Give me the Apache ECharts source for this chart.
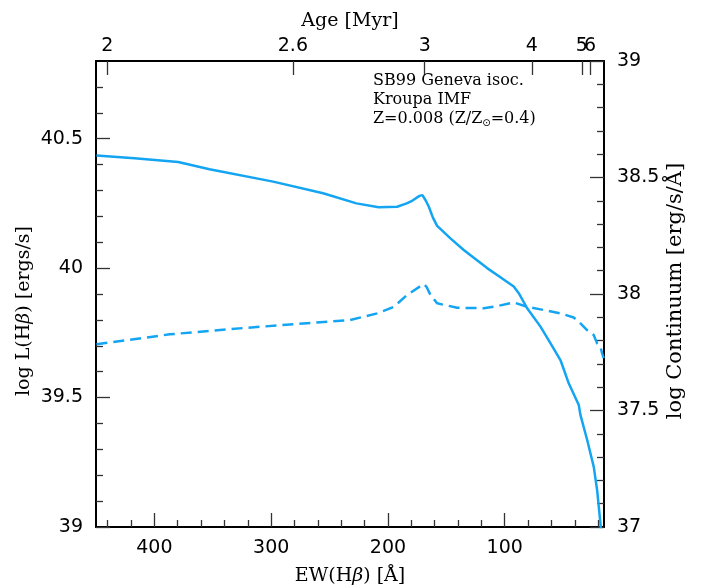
<!DOCTYPE html>
<html><head><meta charset="utf-8">
<script src="https://cdn.jsdelivr.net/npm/echarts@6/dist/echarts.min.js"></script>
<style>html,body{margin:0;padding:0;background:#fff}#c{width:702px;height:588px}</style>
</head><body><div id="c"></div>
<script>
// Solid line: log L(Hbeta) vs EW(Hbeta)
const ewSolid = [449.6, 417, 379.6, 352.8, 298.3, 255.5, 227, 207.9, 192.1, 184, 179.3, 173, 170.5, 167.9, 165, 161.5, 157.9, 146.5, 135.1, 115.1, 103.7, 92.3, 88, 80.8, 69.4, 60.9, 52.3, 45.2, 36.6, 35.2, 29.4, 23.8, 20.9, 18.1, 17.2];
const logLHb = [40.435, 40.424, 40.410, 40.382, 40.334, 40.289, 40.250, 40.235, 40.237, 40.250, 40.260, 40.279, 40.282, 40.263, 40.237, 40.195, 40.163, 40.115, 40.070, 40.0, 39.965, 39.929, 39.903, 39.845, 39.774, 39.710, 39.645, 39.555, 39.471, 39.433, 39.336, 39.233, 39.143, 39.016, 38.97];
// Dashed line: log Continuum vs EW(Hbeta)
const ewDashed = [449.6, 386.8, 321.1, 232.7, 209.2, 195, 183.6, 169.4, 167, 163.6, 157.9, 140.8, 118, 106.5, 92.3, 80.8, 69.4, 52.3, 40.9, 36.6, 29.5, 23.8, 20.9, 18.1, 16.6, 15.3];
const logCont = [37.784, 37.827, 37.855, 37.888, 37.917, 37.945, 37.996, 38.043, 38.031, 37.996, 37.960, 37.941, 37.939, 37.948, 37.964, 37.945, 37.934, 37.917, 37.899, 37.881, 37.845, 37.824, 37.788, 37.774, 37.745, 37.725];
// Axis ticks
const ewMajorTicks = [400, 300, 200, 100];
const ewMinorTicks = [440, 420, 380, 360, 340, 320, 280, 260, 240, 220, 180, 160, 140, 120, 80, 60, 40, 20];
const lhbMajorTicks = [39, 39.5, 40, 40.5];
const lhbMinorTicks = [39.1, 39.2, 39.3, 39.4, 39.6, 39.7, 39.8, 39.9, 40.1, 40.2, 40.3, 40.4, 40.6, 40.7];
const contMajorTicks = [37, 37.5, 38, 38.5, 39];
const contMinorTicks = [37.1, 37.2, 37.3, 37.4, 37.6, 37.7, 37.8, 37.9, 38.1, 38.2, 38.3, 38.4, 38.6, 38.7, 38.8, 38.9];
const ageLabels = ['2', '2.6', '3', '4', '5', '6'];
const ageTickEW = [440.4, 281.4, 168.5, 76.8, 34, 26.9];
const annotationLines = ['SB99 Geneva isoc.', 'Kroupa IMF', '{n|Z=0.008 (Z/Z}{s|⊙}{n|=0.4)}'];

const EW_MIN = 15, EW_MAX = 450;
const LINE_COLOR = '#14a5f2';
const numFont = 'DejaVu Sans';
const txtFont = 'DejaVu Serif';

function pairs(xs, ys) { return xs.map((x, i) => [x, ys[i]]); }
function ageFormatter(v) { const i = ageTickEW.findIndex(e => Math.abs(e - v) < 1e-6); return i >= 0 ? ageLabels[i] : ''; }

const chart = echarts.init(document.getElementById('c'), null, {renderer: 'canvas'});
const axLine = {show: true, lineStyle: {color: '#000', width: 2}};
const majorTick = (vals) => ({show: true, inside: true, length: 14, customValues: vals, lineStyle: {color: '#333', width: 1.3}});
const minorTickAx = (vals) => ({show: true, inside: true, length: 7, customValues: vals, lineStyle: {color: '#333', width: 1.3}});
const labelStyle = {color: '#000', fontFamily: numFont, fontSize: 19};
const nameStyle = {color: '#000', fontFamily: txtFont, fontSize: 19, rich: {i: {fontStyle: 'italic', fontFamily: txtFont, fontSize: 19}}};
const topFirst = ageTickEW.slice(0, ageTickEW.length - 1);
const topLast = ageTickEW.slice(ageTickEW.length - 1);

chart.setOption({
  animation: false,
  backgroundColor: '#fff',
  grid: {left: 96, top: 61, width: 508, height: 466, containLabel: false, outerBoundsMode: 'none'},
  xAxis: [
    {type: 'value', gridIndex: 0, position: 'bottom', min: EW_MIN, max: EW_MAX, inverse: true,
     axisLine: axLine, axisTick: majorTick(ewMajorTicks),
     axisLabel: {show: true, customValues: ewMajorTicks, margin: 12, ...labelStyle},
     splitLine: {show: false},
     name: 'EW(H{i|β}) [Å]', nameLocation: 'middle', nameGap: 40, nameTextStyle: nameStyle},
    {type: 'value', gridIndex: 0, position: 'top', min: EW_MIN, max: EW_MAX, inverse: true,
     axisLine: axLine, axisTick: majorTick(topFirst),
     axisLabel: {show: true, customValues: topFirst, margin: 5, hideOverlap: false, ...labelStyle, formatter: ageFormatter},
     splitLine: {show: false},
     name: 'Age [Myr]', nameLocation: 'middle', nameGap: 30, nameTextStyle: nameStyle},
    {type: 'value', gridIndex: 0, position: 'bottom', min: EW_MIN, max: EW_MAX, inverse: true,
     axisLine: {show: false}, axisTick: minorTickAx(ewMinorTicks), axisLabel: {show: false}, splitLine: {show: false}},
    {type: 'value', gridIndex: 0, position: 'top', min: EW_MIN, max: EW_MAX, inverse: true,
     axisLine: {show: false}, axisTick: majorTick(topLast),
     axisLabel: {show: true, customValues: topLast, margin: 5, hideOverlap: false, ...labelStyle, formatter: ageFormatter},
     splitLine: {show: false}}
  ],
  yAxis: [
    {type: 'value', gridIndex: 0, position: 'left', min: 39, max: 40.8,
     axisLine: axLine, axisTick: majorTick(lhbMajorTicks),
     axisLabel: {show: true, customValues: lhbMajorTicks, margin: 13, ...labelStyle},
     splitLine: {show: false}},
    {type: 'value', gridIndex: 0, position: 'right', min: 37, max: 39,
     axisLine: axLine, axisTick: majorTick(contMajorTicks),
     axisLabel: {show: true, customValues: contMajorTicks, margin: 13, ...labelStyle},
     splitLine: {show: false}},
    {type: 'value', gridIndex: 0, position: 'left', min: 39, max: 40.8,
     axisLine: {show: false}, axisTick: minorTickAx(lhbMinorTicks), axisLabel: {show: false}, splitLine: {show: false}},
    {type: 'value', gridIndex: 0, position: 'right', min: 37, max: 39,
     axisLine: {show: false}, axisTick: minorTickAx(contMinorTicks), axisLabel: {show: false}, splitLine: {show: false}}
  ],
  graphic: [
    {type: 'text', left: 373, top: 71, z: 100,
     style: {
       text: annotationLines.join('\n'),
       fill: '#000', font: '16px "DejaVu Serif"', lineHeight: 19,
       rich: {
         n: {fontFamily: txtFont, fontSize: 16, fill: '#000', lineHeight: 19},
         s: {fontFamily: numFont, fontSize: 10, fill: '#000', verticalAlign: 'bottom', padding: [8, 0, 0, 0], lineHeight: 19}
       }
     }},
    {type: 'text', x: 24, y: 311, rotation: Math.PI / 2, z: 100,
     style: {text: 'log L(H{i|β}) [ergs/s]', fill: '#000', font: '19px "DejaVu Serif"', align: 'center', verticalAlign: 'middle',
       rich: {i: {fontStyle: 'italic', fontFamily: txtFont, fontSize: 19, fill: '#000'}}}},
    {type: 'text', x: 676, y: 291, rotation: Math.PI / 2, z: 100,
     style: {text: 'log Continuum [erg/s/Å]', fill: '#000', font: '21px "DejaVu Serif"', align: 'center', verticalAlign: 'middle'}}
  ],
  series: [
    {type: 'line', xAxisIndex: 0, yAxisIndex: 0, data: pairs(ewSolid, logLHb), showSymbol: false, clip: true,
     lineStyle: {color: LINE_COLOR, width: 2.5}},
    {type: 'line', xAxisIndex: 0, yAxisIndex: 1, data: pairs(ewDashed, logCont), showSymbol: false, clip: true,
     lineStyle: {color: LINE_COLOR, width: 2.5, type: [11, 6]}}
  ]
});
</script></body></html>
